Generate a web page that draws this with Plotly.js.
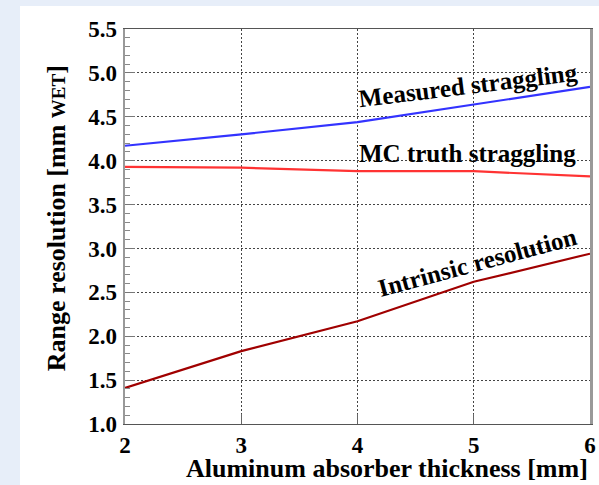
<!DOCTYPE html>
<html>
<head>
<meta charset="utf-8">
<script src="https://cdn.plot.ly/plotly-3.0.1.min.js"></script>
<style>
html,body{margin:0;padding:0;background:#e7eef9;}
#chart{width:599px;height:485px;}
</style>
</head>
<body>
<div id="chart"></div>
<script>
// Data
var thickness = [2, 3, 4, 5, 6];                       // Aluminum absorber thickness [mm]
var measured  = [4.17, 4.30, 4.44, 4.64, 4.84];        // Measured straggling
var mcTruth   = [3.93, 3.92, 3.88, 3.88, 3.82];        // MC truth straggling
var intrinsic = [1.41, 1.83, 2.17, 2.62, 2.94];        // Intrinsic resolution
var yTickVals = [1.0, 1.5, 2.0, 2.5, 3.0, 3.5, 4.0, 4.5, 5.0, 5.5];
var xTickVals = [2, 3, 4, 5, 6];

var SERIF = 'Liberation Serif, Times New Roman, serif';

var traces = [
  {x: thickness, y: measured, mode: 'lines', name: 'Measured straggling',
   line: {color: '#3333ff', width: 2.2}},
  {x: thickness, y: mcTruth, mode: 'lines', name: 'MC truth straggling',
   line: {color: '#ff3333', width: 2.2}},
  {x: thickness, y: intrinsic, mode: 'lines', name: 'Intrinsic resolution',
   line: {color: '#a00000', width: 2.2}}
];

var tickFont = {family: SERIF, size: 23, color: '#000', weight: 'bold'};

var layout = {
  width: 599, height: 485,
  margin: {l: 125, r: 9, t: 29, b: 61, pad: 0},
  paper_bgcolor: '#e7eef9',
  plot_bgcolor: '#ffffff',
  showlegend: false,
  font: {family: SERIF, color: '#000'},
  xaxis: {
    range: [2, 6], tickvals: xTickVals, ticktext: xTickVals.map(String),
    ticks: 'inside', ticklen: 10, tickwidth: 1, tickcolor: '#666',
    showline: true, linecolor: '#555', linewidth: 1.2, mirror: true,
    showgrid: true, gridcolor: '#444', gridwidth: 1, griddash: '2px,2px',
    zeroline: false, tickfont: tickFont, ticklabelstandoff: 0
  },
  yaxis: {
    range: [1, 5.5], tickvals: yTickVals, ticktext: yTickVals.map(function(v){return v.toFixed(1);}),
    ticks: 'inside', ticklen: 10, tickwidth: 1, tickcolor: '#777',
    minor: {dtick: 0.1, ticks: 'inside', ticklen: 5, tickcolor: '#888', showgrid: false},
    showline: true, linecolor: '#999', linewidth: 2.5, mirror: true,
    showgrid: true, gridcolor: '#444', gridwidth: 1, griddash: '2px,2px',
    zeroline: false, tickfont: tickFont, ticklabelstandoff: 1
  },
  shapes: [
    {type: 'rect', xref: 'paper', yref: 'paper', x0: -0.2258, x1: 1.05, y0: -0.2, y1: 1.0582,
     fillcolor: '#ffffff', line: {width: 0}, layer: 'below'}
  ],
  annotations: [
    {xref: 'paper', yref: 'paper', x: -0.148, y: 0.5215, xanchor: 'center', yanchor: 'middle',
     textangle: -90, showarrow: false,
     text: 'Range resolution [mm <span style="font-size:19px">WET</span>]',
     font: {family: SERIF, size: 26, color: '#000', weight: 'bold'}},
    {xref: 'paper', yref: 'paper', x: 1, y: -0.113, xanchor: 'right', yanchor: 'middle',
     showarrow: false, text: 'Aluminum absorber thickness [mm]',
     font: {family: SERIF, size: 26, color: '#000', weight: 'bold'}},
    {xref: 'paper', yref: 'paper', x: 0.7376, y: 0.8557, xanchor: 'center', yanchor: 'middle',
     textangle: -7, showarrow: false, text: 'Measured straggling',
     font: {family: SERIF, size: 25, color: '#000', weight: 'bold'}},
    {xref: 'paper', yref: 'paper', x: 0.7376, y: 0.686, xanchor: 'center', yanchor: 'middle',
     showarrow: false, text: 'MC truth straggling',
     font: {family: SERIF, size: 25, color: '#000', weight: 'bold'}},
    {xref: 'paper', yref: 'paper', x: 0.757, y: 0.41, xanchor: 'center', yanchor: 'middle',
     textangle: -15, showarrow: false, text: 'Intrinsic resolution',
     font: {family: SERIF, size: 25, color: '#000', weight: 'bold'}}
  ]
};

Plotly.newPlot('chart', traces, layout, {staticPlot: true, displayModeBar: false});
</script>
</body>
</html>
